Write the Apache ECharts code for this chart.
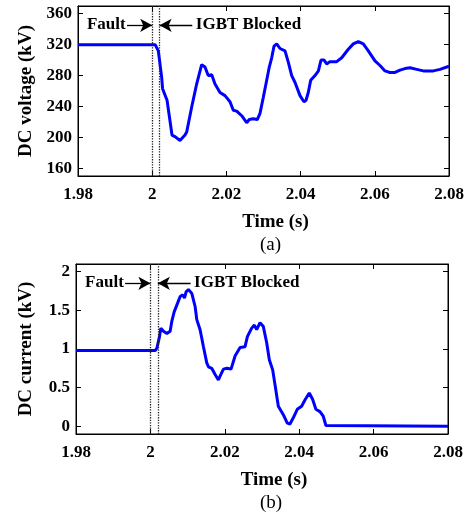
<!DOCTYPE html>
<html>
<head>
<meta charset="utf-8">
<script src="https://cdn.jsdelivr.net/npm/echarts@6/dist/echarts.min.js"></script>
<style>
  html, body { margin: 0; padding: 0; background: #fff; }
  #chart { width: 476px; height: 516px; }
</style>
</head>
<body>
<div id="chart"></div>
<script>
// (a) DC voltage, kV
const voltTime = [1.98, 2.0008, 2.0012, 2.00165, 2.00255, 2.0028, 2.004, 2.0049, 2.00533, 2.00615, 2.00749,
  2.00884, 2.0093, 2.01063, 2.01198, 2.01333, 2.01423, 2.0151, 2.01604, 2.01693, 2.01827, 2.01962,
  2.02097, 2.02186, 2.02277, 2.02412, 2.02546, 2.02617, 2.02725, 2.02833, 2.02906, 2.02995, 2.03086,
  2.03156, 2.03221, 2.03283, 2.03356, 2.03445, 2.0358, 2.0367, 2.0376, 2.0385, 2.03984, 2.0409,
  2.04146, 2.04207, 2.04272, 2.04388, 2.0448, 2.0455, 2.04633, 2.04703, 2.04792, 2.04973, 2.05108,
  2.05286, 2.05421, 2.05555, 2.0569, 2.05825, 2.06005, 2.0614, 2.06275, 2.0641, 2.06544, 2.06679,
  2.06814, 2.06949, 2.07129, 2.07308, 2.07577, 2.07757, 2.08]
const voltValue = [320, 320, 319, 312, 278, 263, 248, 218, 203, 201, 196,
  203, 207, 239, 269, 294, 291, 280, 281, 269, 258, 254,
  246, 235, 234, 228, 219, 223, 224, 223, 231, 252, 274,
  291, 303, 318, 321, 315, 312, 297, 280, 271, 254, 246,
  248, 258, 274, 280, 286, 300, 300, 295, 298, 298, 303,
  314, 321, 324, 321, 312, 299, 293, 286, 284, 284, 287,
  289, 290, 288, 286, 286, 288, 292]

// (b) DC current, kA
const currTime = [1.98, 2.0013, 2.00174, 2.00245, 2.0028, 2.00352, 2.00442, 2.00531, 2.00576, 2.00639,
  2.00728, 2.008, 2.00871, 2.00916, 2.0096, 2.01023, 2.01113, 2.01202, 2.01247, 2.01336, 2.01426,
  2.01515, 2.0156, 2.01649, 2.01739, 2.01828, 2.01873, 2.01963, 2.02052, 2.02168, 2.02276, 2.0241,
  2.02544, 2.02607, 2.02723, 2.02795, 2.02857, 2.02947, 2.03036, 2.03126, 2.03197, 2.03287, 2.03349,
  2.03439, 2.03573, 2.0368, 2.03752, 2.03841, 2.03948, 2.04065, 2.04154, 2.04271, 2.0436, 2.04449,
  2.04557, 2.04646, 2.04718, 2.04736, 2.08]
const currValue = [0.98, 0.98, 1.01, 1.16, 1.27, 1.23, 1.2, 1.23, 1.36, 1.48,
  1.59, 1.68, 1.7, 1.66, 1.74, 1.77, 1.72, 1.55, 1.38, 1.25, 1.03,
  0.82, 0.77, 0.75, 0.67, 0.6, 0.65, 0.74, 0.75, 0.74, 0.91, 1.02,
  1.03, 1.16, 1.27, 1.31, 1.25, 1.34, 1.29, 1.08, 0.86, 0.73, 0.54,
  0.26, 0.15, 0.04, 0.03, 0.11, 0.22, 0.26, 0.34, 0.43, 0.35, 0.22,
  0.19, 0.13, 0.01, 0, 0]

const voltTicks = [160, 200, 240, 280, 320, 360]
const currTicks = [0, 0.5, 1, 1.5, 2]
const eventTimes = [2.0, 2.002]   // fault, IGBT blocked

const font = 'Liberation Serif'
const blue = '#0000ff'

function pairs(t, v) {
  return t.map((x, i) => [x, v[i]])
}

function xAxisFor(gridIndex) {
  return [{
    type: 'value', gridIndex: gridIndex, min: 1.98, max: 2.08, interval: 0.02,
    name: 'Time (s)', nameLocation: 'middle', nameGap: 37,
    nameTextStyle: { fontFamily: font, fontWeight: 'bold', fontSize: 19, color: '#000', padding: [0, 0, 0, 24] },
    axisLine: { onZero: false, lineStyle: { color: '#000', width: 1 } },
    axisTick: { inside: true, length: 5, lineStyle: { color: '#000' } },
    axisLabel: {
      fontFamily: font, fontWeight: 'bold', fontSize: 17, color: '#000', margin: 10,
      formatter: v => String(+v.toFixed(2))
    },
    splitLine: { show: false }
  }, {
    type: 'value', gridIndex: gridIndex, position: 'top', min: 1.98, max: 2.08, interval: 0.02,
    axisLine: { onZero: false, lineStyle: { color: '#000', width: 1 } },
    axisTick: { inside: true, length: 5, lineStyle: { color: '#000' } },
    axisLabel: { show: false },
    splitLine: { show: false }
  }]
}

function yAxisFor(gridIndex, min, max, ticks, name) {
  return [{
    type: 'value', gridIndex: gridIndex, min: min, max: max,
    name: name, nameLocation: 'middle', nameGap: 40,
    nameTextStyle: { fontFamily: font, fontWeight: 'bold', fontSize: 19, color: '#000' },
    axisLine: { onZero: false, lineStyle: { color: '#000', width: 1 } },
    axisTick: { inside: true, length: 5, customValues: ticks, lineStyle: { color: '#000' } },
    axisLabel: {
      fontFamily: font, fontWeight: 'bold', fontSize: 17, color: '#000', margin: 6,
      customValues: ticks, formatter: v => String(v)
    },
    splitLine: { show: false }
  }, {
    type: 'value', gridIndex: gridIndex, position: 'right', min: min, max: max,
    axisLine: { show: true, onZero: false, lineStyle: { color: '#000', width: 1 } },
    axisTick: { show: true, inside: true, length: 5, customValues: ticks, lineStyle: { color: '#000' } },
    axisLabel: { show: false },
    splitLine: { show: false }
  }]
}

// dotted event lines, arrows and their labels
function eventMarks(yMin, yMax, yText) {
  const dotted = { type: 'dotted', color: '#222', width: 1.3 }
  return {
    markLine: {
      silent: true,
      animation: false,
      symbol: ['none', 'none'],
      data: [
        [{ coord: [eventTimes[0], yMin], lineStyle: dotted }, { coord: [eventTimes[0], yMax] }],
        [{ coord: [eventTimes[1], yMin], lineStyle: dotted }, { coord: [eventTimes[1], yMax] }],
        [
          { coord: [1.9932, yText], symbol: 'none' },
          { coord: [eventTimes[0], yText], symbol: 'arrow', symbolSize: [10, 12] }
        ],
        [
          { coord: [2.0108, yText], symbol: 'none' },
          { coord: [eventTimes[1], yText], symbol: 'arrow', symbolSize: [10, 12] }
        ]
      ],
      lineStyle: { type: 'solid', color: '#000', width: 1.3 },
      itemStyle: { color: '#000' },
      label: { show: false }
    },
    markPoint: {
      silent: true,
      animation: false,
      symbolSize: 1,
      itemStyle: { color: 'rgba(0,0,0,0)' },
      label: { fontFamily: font, fontWeight: 'bold', fontSize: 17, color: '#000', distance: 1 },
      data: [
        { coord: [1.9932, yText], label: { formatter: 'Fault', position: 'left' } },
        { coord: [2.0114, yText], label: { formatter: 'IGBT Blocked', position: 'right' } }
      ]
    }
  }
}

const myChart = echarts.init(document.getElementById('chart'))
const option = {
  animation: false,
  grid: [
    { left: 78, top: 6, width: 371, height: 170, show: true, borderColor: '#000', borderWidth: 1 },
    { left: 76, top: 264, width: 372, height: 170, show: true, borderColor: '#000', borderWidth: 1 }
  ],
  xAxis: [...xAxisFor(0), ...xAxisFor(1)],
  yAxis: [
    ...yAxisFor(0, 150, 370, voltTicks, 'DC voltage (kV)'),
    ...yAxisFor(1, -0.1, 2.1, currTicks, 'DC current (kV)')
  ],
  graphic: [
    { type: 'text', left: 260, top: 236, style: { text: '(a)', font: '19px "Liberation Serif"', fill: '#000' } },
    { type: 'text', left: 260, top: 494, style: { text: '(b)', font: '19px "Liberation Serif"', fill: '#000' } }
  ],
  series: [
    Object.assign({
      type: 'line', xAxisIndex: 0, yAxisIndex: 0,
      data: pairs(voltTime, voltValue),
      showSymbol: false,
      lineStyle: { color: blue, width: 3 },
      itemStyle: { color: blue }
    }, eventMarks(150, 370, 345)),
    Object.assign({
      type: 'line', xAxisIndex: 2, yAxisIndex: 2,
      data: pairs(currTime, currValue),
      showSymbol: false,
      lineStyle: { color: blue, width: 3 },
      itemStyle: { color: blue }
    }, eventMarks(-0.1, 2.1, 1.85))
  ]
}
option && myChart.setOption(option)
</script>
</body>
</html>
